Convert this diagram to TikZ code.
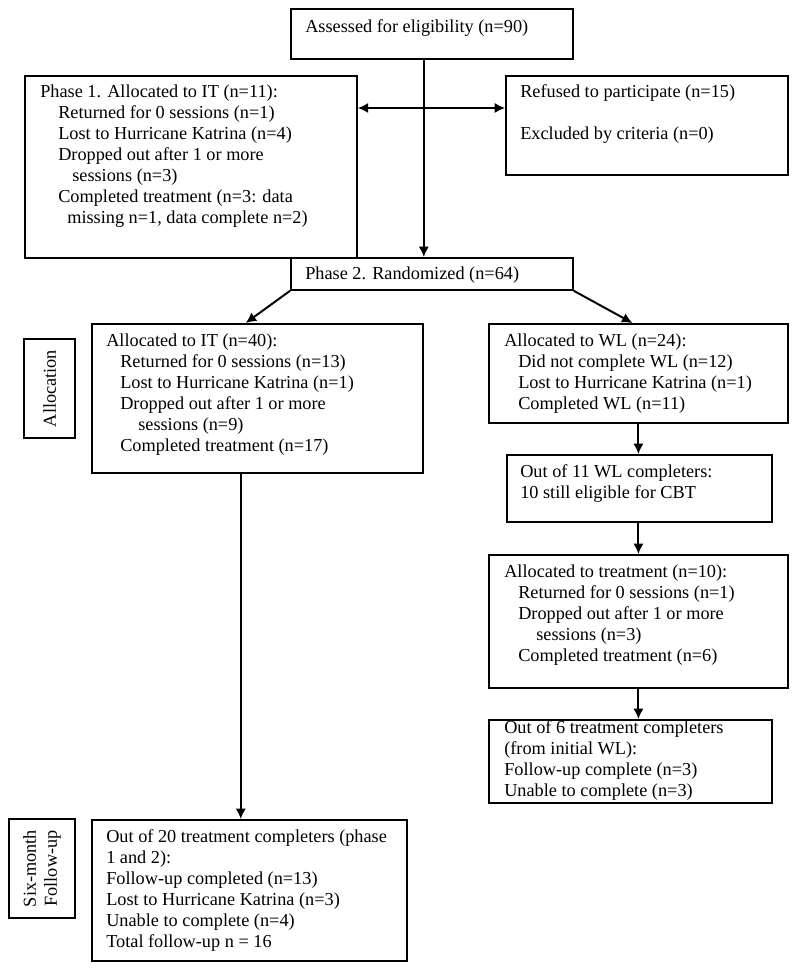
\documentclass[tikz,border=0pt]{standalone}
\usepackage{fontspec}
\setmainfont{Liberation Serif}
\usetikzlibrary{arrows.meta,calc}

\begin{document}
\begin{tikzpicture}[
  box/.style={draw,rectangle,line width=1.3pt,inner sep=0pt,anchor=north west},
  txt/.style={anchor=north west,inner sep=0pt,align=left,font=\fontsize{13}{14.9}\selectfont},
  lbl/.style={draw,rectangle,line width=1.3pt,rotate=90,inner sep=0pt,align=center,font=\fontsize{13}{14.9}\selectfont},
  arr/.style={line width=1.4pt,-{Latex[length=2.6mm,width=2.6mm]}},
  dblarr/.style={line width=1.4pt,{Latex[length=2.6mm,width=2.6mm]}-{Latex[length=2.6mm,width=2.6mm]}}]
\useasboundingbox (0,0) rectangle (19.875,24.225);
% boxes
\draw (7.25,24.025) node[box,minimum width=7.05cm,minimum height=1.25cm](assess) {};
\draw (0.6,22.35) node[box,minimum width=8.3cm,minimum height=4.55cm](phone) {};
\draw (12.625,22.35) node[box,minimum width=7.05cm,minimum height=2.475cm](refuse) {};
\draw (7.25,17.8) node[box,minimum width=7.05cm,minimum height=0.8cm](rand) {};
\draw (2.275,16.15) node[box,minimum width=8.275cm,minimum height=3.725cm](itbox) {};
\draw (12.2,16.15) node[box,minimum width=7.475cm,minimum height=2.475cm](wlbox) {};
\draw (12.65,12.875) node[box,minimum width=6.625cm,minimum height=1.675cm](elig) {};
\draw (12.2,10.375) node[box,minimum width=7.475cm,minimum height=3.325cm](treat) {};
\draw (12.2,6.25) node[box,minimum width=7.075cm,minimum height=2.075cm](wlfu) {};
\draw (2.275,3.75) node[box,minimum width=7.875cm,minimum height=3.525cm](fu) {};
% side labels
\draw (1.2375,14.5125) node[lbl,minimum width=2.475cm,minimum height=1.275cm](alloc) {Allocation};
\draw (1.05,2.5125) node[lbl,minimum width=2.475cm,minimum height=1.65cm](sixm) {Six-month\\Follow-up};
% texts
\draw (7.625,23.7375) node[txt](assesstxt) {Assessed for eligibility (n=90)};
\draw (1.0,22.1125) node[txt](phonetxt) {Phase 1. Allocated to IT (n=11):\\
  \hspace*{0.45cm}Returned for 0 sessions (n=1)\\
  \hspace*{0.45cm}Lost to Hurricane Katrina (n=4)\\
  \hspace*{0.45cm}Dropped out after 1 or more\\
  \hspace*{0.8cm}sessions (n=3)\\
  \hspace*{0.45cm}Completed treatment (n=3: data\\
  \hspace*{0.675cm}missing n=1, data complete n=2)};
\draw (13.0,22.1125) node[txt](refusetxt) {Refused to participate (n=15)\\[14.9pt]
  Excluded by criteria (n=0)};
\draw (7.625,17.5625) node[txt](randtxt) {Phase 2. Randomized (n=64)};
\draw (2.65,15.8875) node[txt](ittxt) {Allocated to IT (n=40):\\
  \hspace*{0.35cm}Returned for 0 sessions (n=13)\\
  \hspace*{0.35cm}Lost to Hurricane Katrina (n=1)\\
  \hspace*{0.35cm}Dropped out after 1 or more\\
  \hspace*{0.8cm}sessions (n=9)\\
  \hspace*{0.35cm}Completed treatment (n=17)};
\draw (12.6,15.8875) node[txt](wltxt) {Allocated to WL (n=24):\\
  \hspace*{0.35cm}Did not complete WL (n=12)\\
  \hspace*{0.35cm}Lost to Hurricane Katrina (n=1)\\
  \hspace*{0.35cm}Completed WL (n=11)};
\draw (13.0,12.6125) node[txt](eligtxt) {Out of 11 WL completers:\\
  10 still eligible for CBT};
\draw (12.6,10.1125) node[txt](treattxt) {Allocated to treatment (n=10):\\
  \hspace*{0.35cm}Returned for 0 sessions (n=1)\\
  \hspace*{0.35cm}Dropped out after 1 or more\\
  \hspace*{0.8cm}sessions (n=3)\\
  \hspace*{0.35cm}Completed treatment (n=6)};
\draw (12.6,6.2125) node[txt](wlfutxt) {Out of 6 treatment completers\\
  (from initial WL):\\
  Follow-up complete (n=3)\\
  Unable to complete (n=3)};
\draw (2.65,3.4875) node[txt](futxt) {Out of 20 treatment completers (phase\\
  1 and 2):\\
  Follow-up completed (n=13)\\
  Lost to Hurricane Katrina (n=3)\\
  Unable to complete (n=4)\\
  Total follow-up n = 16};
% connectors
\coordinate (split) at (10.55,21.525);
\coordinate (itin) at ($(itbox.north west)!0.465!(itbox.north east)$);
\coordinate (wlin) at ($(wlbox.north west)!0.48!(wlbox.north east)$);
\coordinate (itout) at ($(itbox.south west)!0.45!(itbox.south east)$);
\draw[arr] (assess.south -| itbox.east) -- (rand.north -| itbox.east);
\draw[dblarr] (phone.east |- split) -- (refuse.west |- split);
\draw[arr] (rand.south west) -- (itin);
\draw[arr] (rand.south east) -- (wlin);
\draw[arr] (wlbox.south) -- (wlbox.south |- elig.north);
\draw[arr] (treat.north |- elig.south) -- (treat.north);
\draw[arr] (treat.south) -- (treat.south |- wlfu.north);
\draw[arr] (itout) -- (itout |- fu.north);
\end{tikzpicture}
\end{document}
